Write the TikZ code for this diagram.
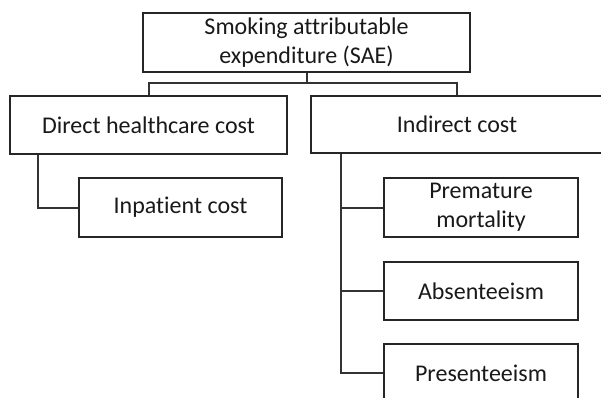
\documentclass[tikz,border=0pt]{standalone}
\usepackage{fontspec}
\setmainfont[Ligatures=NoCommon]{Carlito}
\begin{document}
\begin{tikzpicture}[x=1pt,y=-1pt,
    costbox/.style={draw=black!85,line width=2.6pt,fill=white,align=center,
        text=black!90,font=\fontsize{24}{29}\selectfont,inner sep=0pt},
    link/.style={draw=black!80,line width=2pt}]
\path[use as bounding box,clip] (0,0) rectangle (601,397);
\fill[white] (0,0) rectangle (601,397);

% oberste Ebene
\node[costbox,minimum width=327pt,minimum height=59pt] (sae) at (306.5,42.5)
    {Smoking attributable\\expenditure (SAE)};
\node[costbox,minimum width=277pt,minimum height=58pt] (direct) at (148.5,125) {Direct healthcare cost};
\node[costbox,minimum width=292pt,minimum height=57pt] (indirect) at (457,124.5) {Indirect cost};
\coordinate (bus) at (306.5,83);
\draw[link] (sae.south) -- (bus);
\draw[link] (direct.north) |- (bus) -| (indirect.north);

% direkte Kosten
\node[costbox,minimum width=203pt,minimum height=59pt] (inpatient) at (180.5,207.5) {Inpatient cost};
\draw[link] ([xshift=29pt]direct.south west) |- (inpatient.west);

% indirekte Kosten
\node[costbox,minimum width=194pt,minimum height=59pt] (premature) at (481,207.5) {Premature\\mortality};
\node[costbox,minimum width=194pt,minimum height=58pt] (absent) at (481,291) {Absenteeism};
\node[costbox,minimum width=194pt,minimum height=58pt] (present) at (481,373) {Presenteeism};
\foreach \c in {premature,absent,present}
    \draw[link] ([xshift=31pt]indirect.south west) |- (\c.west);
\end{tikzpicture}
\end{document}
